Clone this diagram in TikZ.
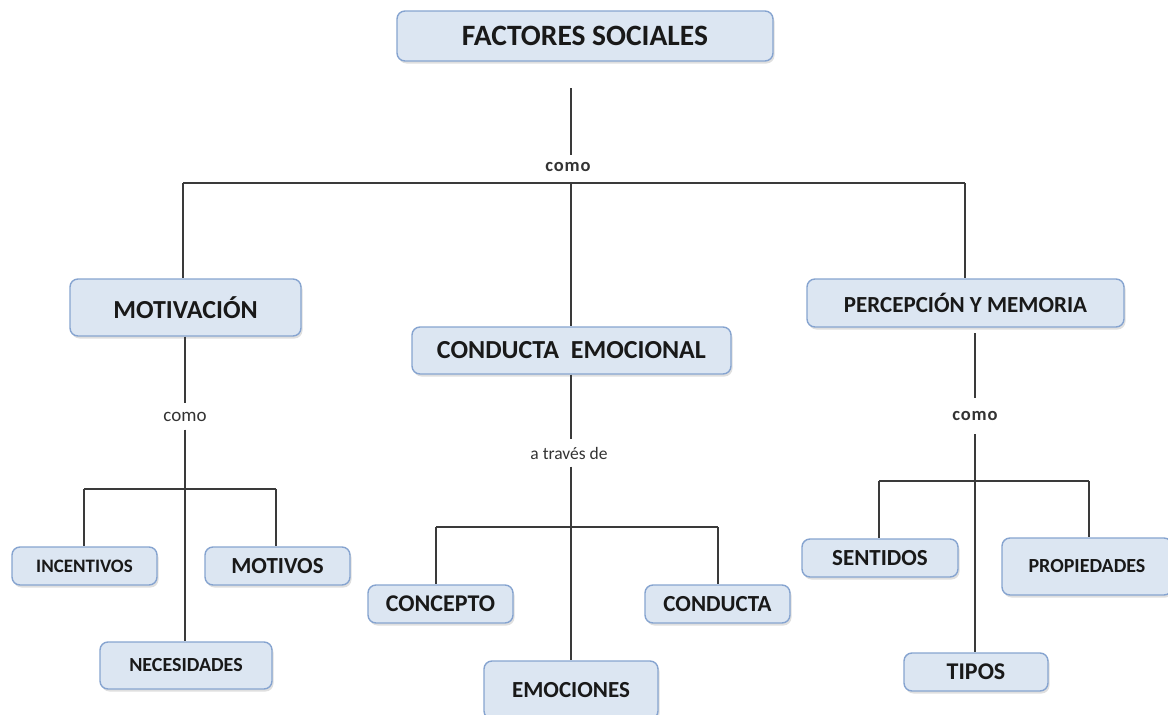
\documentclass[tikz,border=0pt]{standalone}
\usepackage{fontspec}
\setmainfont{Carlito}
\usetikzlibrary{positioning}
\usetikzlibrary{shadows}
\definecolor{cajafondo}{HTML}{DCE6F2}
\definecolor{cajaborde}{HTML}{86A4D0}
\definecolor{linea}{HTML}{3A3A3A}
\newcommand{\fs}[1]{\fontsize{#1}{#1}\selectfont}
\newcommand{\espaciado}{c\kern0.8pt o\kern0.8pt m\kern0.8pt o}
\begin{document}
\begin{tikzpicture}[x=1pt, y=-1pt,
		caja/.style={rectangle, rounded corners=8pt, draw=cajaborde, line width=1.4pt, fill=cajafondo, text=black!90, font=\bfseries, inner sep=0pt, drop shadow={opacity=0.25, shadow xshift=1.5pt, shadow yshift=-2.5pt}},
		nexo/.style={inner sep=0pt, text=black!80},
		enlace/.style={draw=linea, line width=1.3pt}]
	\useasboundingbox (0,0) rectangle (1168,715);

	\node[caja, minimum width=376, minimum height=50, font=\bfseries\fs{29.5}] (F) at (585,36) {FACTORES SOCIALES};
	\node[caja, minimum width=231, minimum height=57, font=\bfseries\fs{26}] (M) at (185.5,307.5) {MOTIVACIÓN};
	\node[caja, minimum width=319, minimum height=47, font=\bfseries\fs{26}] (C) at (571.5,350.5) {CONDUCTA\ \ EMOCIONAL};
	\node[caja, minimum width=317, minimum height=48, font=\bfseries\fs{23}] (P) at (965.5,303) {PERCEPCIÓN Y MEMORIA};

	\node[caja, minimum width=145, minimum height=38, font=\bfseries\fs{19}] (M1) at (84.5,566) {INCENTIVOS};
	\node[caja, minimum width=145, minimum height=38, font=\bfseries\fs{23}] (M2) at (277.5,566) {MOTIVOS};
	\node[caja, minimum width=172, minimum height=47, font=\bfseries\fs{20}] (M3) at (186,665.5) {NECESIDADES};

	\node[caja, minimum width=145, minimum height=38, font=\bfseries\fs{24}] (C1) at (440.5,604) {CONCEPTO};
	\node[caja, minimum width=145, minimum height=38, font=\bfseries\fs{23}] (C2) at (717.5,604) {CONDUCTA};
	\node[caja, minimum width=174, minimum height=58, font=\bfseries\fs{23}] (C3) at (571,690) {EMOCIONES};

	\node[caja, minimum width=156, minimum height=38, font=\bfseries\fs{23}] (P1) at (880,558) {SENTIDOS};
	\node[caja, minimum width=170, minimum height=57, font=\bfseries\fs{20}] (P2) at (1087,566.5) {PROPIEDADES};
	\node[caja, minimum width=144, minimum height=38, font=\bfseries\fs{24}] (P3) at (976,672) {TIPOS};

	\node[nexo, minimum height=24, font=\bfseries\fs{18.5}] (n0) at (568,167) {\espaciado};
	\node[nexo, minimum height=26, font=\fs{19}] (n1) at (185,416.5) {como};
	\node[nexo, minimum height=27, font=\fs{17.5}] (n2) at (569,453) {a través de};
	\node[nexo, minimum height=36, font=\bfseries\fs{18.5}] (n3) at (975,416) {\espaciado};

	\coordinate (f0) at (571,88);
	\coordinate (bL) at (183,183);
	\coordinate (bC) at (571,183);
	\coordinate (bR) at (965,183);
	\coordinate (mL) at (84,489);
	\coordinate (mR) at (276,489);
	\coordinate (cL) at (436,527);
	\coordinate (cR) at (718,527);
	\coordinate (p0) at (975,333);
	\coordinate (pL) at (879,481);
	\coordinate (pR) at (1089,481);

	\draw[enlace] (f0) -- (f0 |- n0.north);
	\draw[enlace] (bL) -- (bR);
	\draw[enlace] (bL) -- (bL |- M.north);
	\draw[enlace] (bC) -- (bC |- C.north);
	\draw[enlace] (bR) -- (bR |- P.north);

	\draw[enlace] (M.south -| n1) -- (n1.north);
	\draw[enlace] (n1.south) -- (n1.south |- M3.north);
	\draw[enlace] (mL) -- (mR);
	\draw[enlace] (mL) -- (mL |- M1.north);
	\draw[enlace] (mR) -- (mR |- M2.north);

	\draw[enlace] (C.south -| bC) -- (bC |- n2.north);
	\draw[enlace] (bC |- n2.south) -- (bC |- C3.north);
	\draw[enlace] (cL) -- (cR);
	\draw[enlace] (cL) -- (cL |- C1.north);
	\draw[enlace] (cR) -- (cR |- C2.north);

	\draw[enlace] (p0) -- (n3.north);
	\draw[enlace] (n3.south) -- (n3.south |- P3.north);
	\draw[enlace] (pL) -- (pR);
	\draw[enlace] (pL) -- (pL |- P1.north);
	\draw[enlace] (pR) -- (pR |- P2.north);
\end{tikzpicture}
\end{document}
